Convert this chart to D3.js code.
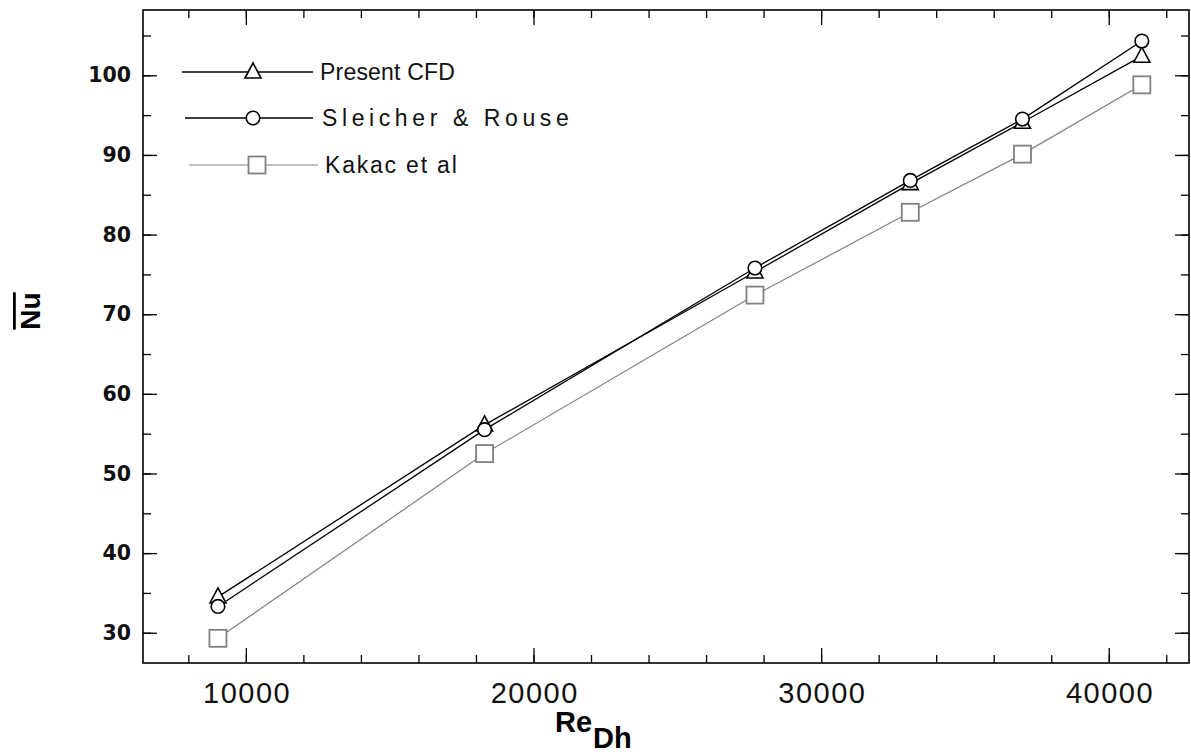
<!DOCTYPE html>
<html>
<head>
<meta charset="utf-8">
<script src="https://cdn.jsdelivr.net/npm/d3@7"></script>
<style>
  html, body { margin: 0; padding: 0; background: #fff; }
  svg { display: block; }
</style>
</head>
<body>
<svg id="chart" width="1191" height="755"></svg>
<script>
// Reynolds numbers of the simulated cases
const reynolds = [9030, 18300, 27700, 33100, 37000, 41150];
// Mean Nusselt number for each source
const presentCFD = [34.5, 56.1, 75.3, 86.4, 94.1, 102.4];
const sleicherRouse = [33.3, 55.5, 75.8, 86.8, 94.5, 104.3];
const kakac = [29.3, 52.5, 72.4, 82.8, 90.1, 98.8];
const seriesNames = ["Present CFD", "Sleicher & Rouse", "Kakac et al"];
const xTicks = [10000, 20000, 30000, 40000];
const yTicks = [30, 40, 50, 60, 70, 80, 90, 100];

const svg = d3.select("#chart");
const plotLeft = 143, plotRight = 1189, plotTop = 10, plotBottom = 663;

const x = d3.scaleLinear().domain([6424, 42790]).range([plotLeft, plotRight]);
const y = d3.scaleLinear().domain([26.2, 108.2]).range([plotBottom, plotTop]);

const series = [
  { name: seriesNames[0], values: presentCFD, color: "#000", marker: "triangle", width: 1.3 },
  { name: seriesNames[1], values: sleicherRouse, color: "#000", marker: "circle", width: 1.3 },
  { name: seriesNames[2], values: kakac, color: "#808080", marker: "square", width: 1.2 }
];

// Inward ticks on all four sides
const xMinor = d3.range(8000, 42001, 2000);
const yMinor = d3.range(30, 106, 5);
const g = svg.append("g");

g.append("g").attr("transform", `translate(0,${plotBottom})`)
  .call(d3.axisBottom(x).tickValues(xMinor).tickSize(-8).tickFormat(""))
  .call(a => a.select(".domain").remove());
g.append("g").attr("transform", `translate(0,${plotBottom})`)
  .call(d3.axisBottom(x).tickValues(xTicks).tickSize(-15).tickPadding(19)
    .tickFormat(d3.format("d")))
  .call(a => a.select(".domain").remove())
  .call(a => a.selectAll("text")
    .attr("font-family", "'Liberation Sans Narrow', 'Arial Narrow', sans-serif")
    .attr("font-size", 29).attr("letter-spacing", 1.5)
    .attr("dx", 0.75).attr("fill", "#111"));
g.append("g").attr("transform", `translate(0,${plotTop})`)
  .call(d3.axisTop(x).tickValues(xMinor).tickSize(-8).tickFormat(""))
  .call(a => a.select(".domain").remove());
g.append("g").attr("transform", `translate(0,${plotTop})`)
  .call(d3.axisTop(x).tickValues(xTicks).tickSize(-15).tickFormat(""))
  .call(a => a.select(".domain").remove());

g.append("g").attr("transform", `translate(${plotLeft},0)`)
  .call(d3.axisLeft(y).tickValues(yMinor).tickSize(-8).tickFormat(""))
  .call(a => a.select(".domain").remove());
g.append("g").attr("transform", `translate(${plotLeft},0)`)
  .call(d3.axisLeft(y).tickValues(yTicks).tickSize(-14).tickPadding(12))
  .call(a => a.select(".domain").remove())
  .call(a => a.selectAll("text")
    .attr("font-family", "'DejaVu Sans', sans-serif")
    .attr("font-weight", "bold")
    .attr("font-size", 20.5).attr("fill", "#111"));
g.append("g").attr("transform", `translate(${plotRight},0)`)
  .call(d3.axisRight(y).tickValues(yMinor).tickSize(-8).tickFormat(""))
  .call(a => a.select(".domain").remove());
g.append("g").attr("transform", `translate(${plotRight},0)`)
  .call(d3.axisRight(y).tickValues(yTicks).tickSize(-14).tickFormat(""))
  .call(a => a.select(".domain").remove());

g.selectAll(".tick line").attr("stroke", "#000").attr("stroke-width", 1.3);

// Frame
svg.append("rect")
  .attr("x", plotLeft).attr("y", plotTop)
  .attr("width", plotRight - plotLeft).attr("height", plotBottom - plotTop)
  .attr("fill", "none").attr("stroke", "#000").attr("stroke-width", 1.6);

// Marker shapes
function drawMarker(sel, type, cx, cy, color) {
  if (type === "triangle") {
    sel.append("path")
      .attr("d", `M${cx},${cy - 9}L${cx + 8},${cy + 6}L${cx - 8},${cy + 6}Z`)
      .attr("fill", "#fff").attr("stroke", color).attr("stroke-width", 1.6);
  } else if (type === "circle") {
    sel.append("circle").attr("cx", cx).attr("cy", cy).attr("r", 6.8)
      .attr("fill", "#fff").attr("stroke", color).attr("stroke-width", 1.6);
  } else {
    sel.append("rect").attr("x", cx - 8.5).attr("y", cy - 8.5)
      .attr("width", 17).attr("height", 17)
      .attr("fill", "#fff").attr("stroke", color).attr("stroke-width", 1.8);
  }
}

const line = d3.line().x(d => x(d[0])).y(d => y(d[1]));
const plot = svg.append("g");
series.forEach(s => {
  plot.append("path")
    .datum(reynolds.map((r, i) => [r, s.values[i]]))
    .attr("d", line)
    .attr("fill", "none").attr("stroke", s.color).attr("stroke-width", s.width);
});
[2, 0, 1].forEach(k => {
  const s = series[k];
  const mg = plot.append("g");
  reynolds.forEach((r, i) => drawMarker(mg, s.marker, x(r), y(s.values[i]), s.color));
});

// Legend
const legendRows = [
  { y: 72, x0: 182, x1: 313, mx: 253, tx: 320, ls: 0.2 },
  { y: 118, x0: 185, x1: 313, mx: 253, tx: 322, ls: 4.6 },
  { y: 165, x0: 189, x1: 318, mx: 257, tx: 325, ls: 1.8 }
];
series.forEach((s, i) => {
  const r = legendRows[i];
  const lg = svg.append("g");
  lg.append("line").attr("x1", r.x0).attr("x2", r.x1).attr("y1", r.y).attr("y2", r.y)
    .attr("stroke", s.color).attr("stroke-width", s.width);
  drawMarker(lg, s.marker, r.mx, r.y, s.color);
  lg.append("text").attr("x", r.tx).attr("y", r.y + 8)
    .attr("font-family", "'Liberation Sans', Arial, sans-serif")
    .attr("font-size", 23).attr("letter-spacing", r.ls).attr("fill", "#111")
    .text(s.name);
});

// Axis titles
const xt = svg.append("text").attr("x", 555).attr("y", 732)
  .attr("font-family", "'Liberation Sans', Arial, sans-serif")
  .attr("font-weight", "bold").attr("font-size", 29).attr("fill", "#000");
xt.append("tspan").text("Re");
xt.append("tspan").attr("dy", 16).attr("font-size", 29).attr("dx", 1).text("Dh");

svg.append("text")
  .attr("transform", "translate(40,311) rotate(-90)")
  .attr("text-anchor", "middle")
  .attr("font-family", "'Liberation Sans', Arial, sans-serif")
  .attr("font-weight", "bold").attr("font-size", 28).attr("fill", "#000")
  .attr("text-decoration", "overline")
  .text("Nu");
</script>
</body>
</html>
